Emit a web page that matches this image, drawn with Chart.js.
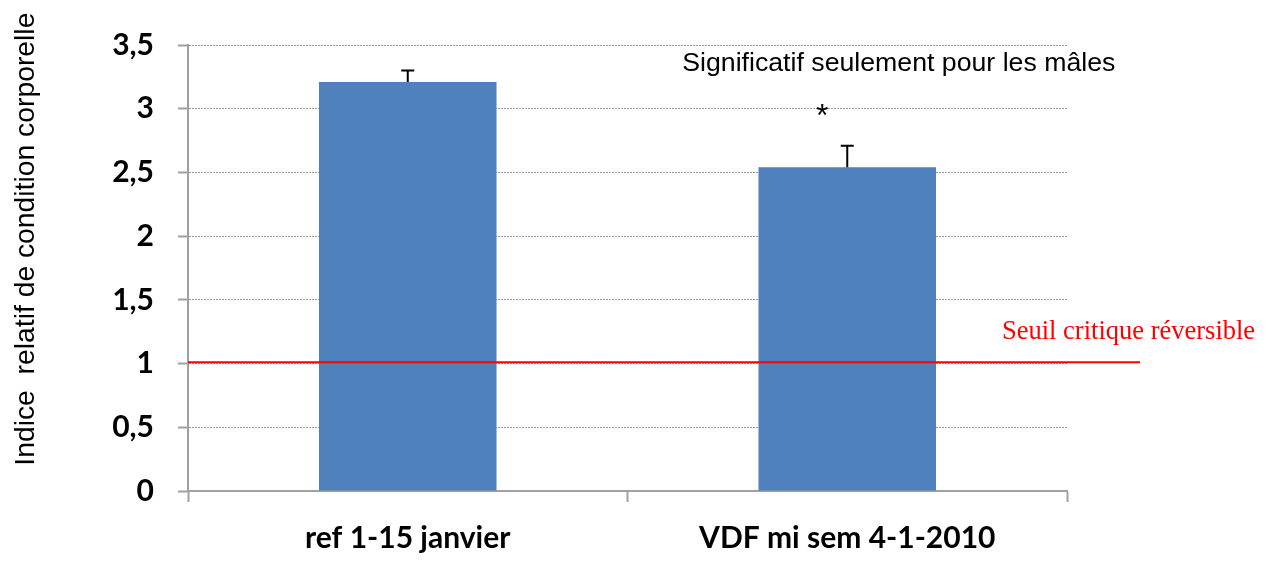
<!DOCTYPE html>
<html>
<head>
<meta charset="utf-8">
<script src="https://cdn.jsdelivr.net/npm/chart.js@4/dist/chart.umd.min.js"></script>
<style>
  html, body { margin: 0; padding: 0; background: #fff; }
  #wrap { width: 1272px; height: 564px; }
</style>
</head>
<body>
<div id="wrap"><canvas id="conditionChart"></canvas></div>
<script>
// données
const categories = ["ref 1-15 janvier", "VDF mi sem 4-1-2010"];
const meanValues = [3.21, 2.54];
const errorValues = [0.09, 0.17];
const tickLabels = ["0", "0,5", "1", "1,5", "2", "2,5", "3", "3,5"];
const thresholdValue = 1.01;
const thresholdLabel = "Seuil critique réversible";
const noteLabel = "Significatif seulement pour les mâles";
const yTitle = "Indice  relatif de condition corporelle";

const axisGray = "#a0a0a0";

// barres d'erreur, seuil, annotations, titre vertical
const extras = {
  id: "extras",
  afterDatasetsDraw(chart) {
    const ctx = chart.ctx;
    const x = chart.scales.x;
    const y = chart.scales.y;
    const area = chart.chartArea;

    ctx.save();
    // barres d'erreur (haut seulement)
    ctx.strokeStyle = "#000";
    ctx.lineWidth = 2;
    meanValues.forEach((v, i) => {
      const cx = x.getPixelForValue(i);
      const yTop = y.getPixelForValue(v + errorValues[i]);
      const yBar = y.getPixelForValue(v);
      ctx.beginPath();
      ctx.moveTo(cx, yBar);
      ctx.lineTo(cx, yTop);
      ctx.moveTo(cx - 6.5, yTop);
      ctx.lineTo(cx + 6.5, yTop);
      ctx.stroke();
    });

    // ligne du seuil critique
    const ty = y.getPixelForValue(thresholdValue);
    ctx.strokeStyle = "#ff0000";
    ctx.lineWidth = 2;
    ctx.beginPath();
    ctx.moveTo(area.left, ty);
    ctx.lineTo(area.right + 73, ty);
    ctx.stroke();

    ctx.fillStyle = "#ff0000";
    ctx.font = "26.5px 'Liberation Serif', 'Times New Roman', serif";
    ctx.textAlign = "left";
    ctx.textBaseline = "alphabetic";
    ctx.fillText(thresholdLabel, area.right - 65, ty - 23);

    // note de significativité
    ctx.fillStyle = "#000";
    ctx.font = "26.7px 'Liberation Sans', Arial, sans-serif";
    ctx.textBaseline = "middle";
    ctx.fillText(noteLabel, x.getPixelForValue(1) - 165, y.getPixelForValue(3.35));
    ctx.textAlign = "center";
    ctx.font = "32px 'Liberation Sans', Arial, sans-serif";
    ctx.fillText("*", x.getPixelForValue(1) - 25, y.getPixelForValue(3.0) + 8);

    // titre de l'axe vertical
    ctx.translate(26, y.getPixelForValue(2.0) + 3);
    ctx.rotate(-Math.PI / 2);
    ctx.font = "28.3px 'Liberation Sans', Arial, sans-serif";
    ctx.textAlign = "center";
    ctx.textBaseline = "middle";
    ctx.fillText(yTitle, 0, 0);
    ctx.restore();
  }
};

const ctx = document.getElementById("conditionChart").getContext("2d");

const chart = new Chart(ctx, {
  type: "bar",
  data: {
    labels: categories,
    datasets: [
      {
        label: "",
        data: meanValues,
        backgroundColor: "#4f81bd",
        borderWidth: 0,
        barPercentage: 0.404,
        categoryPercentage: 1,
      },
    ],
  },
  options: {
    responsive: true,
    maintainAspectRatio: false,
    animation: false,
    layout: {
      padding: { top: 45, right: 205, left: 0, bottom: 0 },
    },
    scales: {
      x: {
        afterFit(scale) {
          scale.height = 73;
        },
        grid: {
          drawOnChartArea: false,
          tickLength: 11,
          tickColor: axisGray,
          tickWidth: 2,
        },
        border: {
          color: axisGray,
          width: 2,
        },
        ticks: {
          padding: 18,
          color: "#000",
          font: { family: "Lato", size: 30, weight: "bold" },
        },
      },
      y: {
        min: 0,
        max: 3.5,
        afterFit(scale) {
          scale.width = 188;
        },
        ticks: {
          stepSize: 0.5,
          padding: 24,
          color: "#000",
          font: { family: "Lato", size: 30, weight: "bold" },
          callback: (value, index) => tickLabels[index],
        },
        grid: {
          color: (c) => (c.tick && c.tick.value === 0 ? "rgba(0,0,0,0)" : "#999"),
          lineWidth: 1,
          tickLength: 10,
          tickColor: axisGray,
          tickWidth: 2,
        },
        border: {
          color: axisGray,
          width: 2,
          dash: [2, 1],
        },
      },
    },
    plugins: {
      legend: { display: false },
      tooltip: { enabled: false },
    },
  },
  plugins: [extras],
});
</script>
</body>
</html>
